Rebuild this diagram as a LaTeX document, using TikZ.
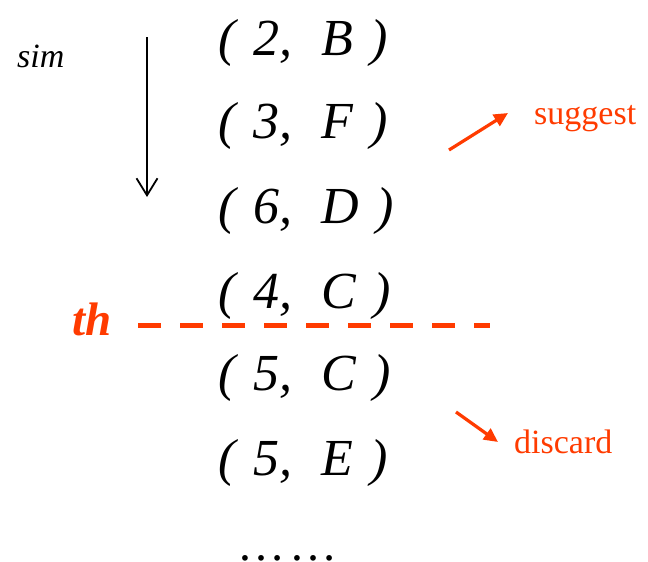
\documentclass[tikz,border=0pt]{standalone}
\usepackage{fontspec}
\setmainfont{Liberation Serif}
\usetikzlibrary{arrows.meta}
\definecolor{hot}{RGB}{255,59,0}
\newcommand{\pr}[2]{(\hspace{18pt}#1,\hspace{29pt}#2\hspace{17pt})}
\tikzset{
  pair/.style={anchor=base west,inner sep=0pt,font=\fontsize{52}{52}\selectfont\itshape},
  redlbl/.style={anchor=base west,inner sep=0pt,text=hot,font=\fontsize{34}{34}\selectfont},
  redarrow/.style={draw=hot,line width=3.2pt,-{Triangle[length=14pt,width=13pt]}},
}
\begin{document}
\begin{tikzpicture}[x=1pt,y=-1pt]
\useasboundingbox (0,0) rectangle (648,562);
\node[pair] (p1) at (218,55) {\pr{2}{B}};
\node[pair] (p2) at (218,138) {\pr{3}{F}};
\node[pair] (p3) at (218,223) {\pr{6}{D}};
\node[pair] (p4) at (218,308) {\pr{4}{C}};
\node[pair] (p5) at (218,390) {\pr{5}{C}};
\node[pair] (p6) at (218,475) {\pr{5}{E}};
\node[anchor=base west,inner sep=0pt,text depth=0pt,font=\fontsize{48}{48}\selectfont] (dots) at (237,560) {…\kern4pt…};
\node[anchor=base west,inner sep=0pt,font=\fontsize{34}{34}\selectfont\itshape] (sim) at (17,67) {sim};
\coordinate (a1) at (147,37);
\coordinate (a2) at (147,197);
\draw[line width=1.8pt,-{Straight Barb[length=17pt,width=21pt,line width=1.8pt]}] (a1) -- (a2);
\node[anchor=base west,inner sep=0pt,text=hot,font=\fontsize{47}{47}\selectfont\bfseries\itshape] (th) at (72,335) {th};
\coordinate (d1) at (138,325);
\coordinate (d2) at (490,325);
\draw[hot,line width=5pt,dash pattern=on 23pt off 19pt] (d1) -- (d2);
\node[redlbl] (sug) at (534,124) {suggest};
\node[redlbl] (dis) at (514,453) {discard};
\coordinate (s1) at (449,150);
\coordinate (s2) at (508,113);
\draw[redarrow] (s1) -- (s2);
\coordinate (c1) at (456,412);
\coordinate (c2) at (498,442);
\draw[redarrow] (c1) -- (c2);
\end{tikzpicture}
\end{document}
